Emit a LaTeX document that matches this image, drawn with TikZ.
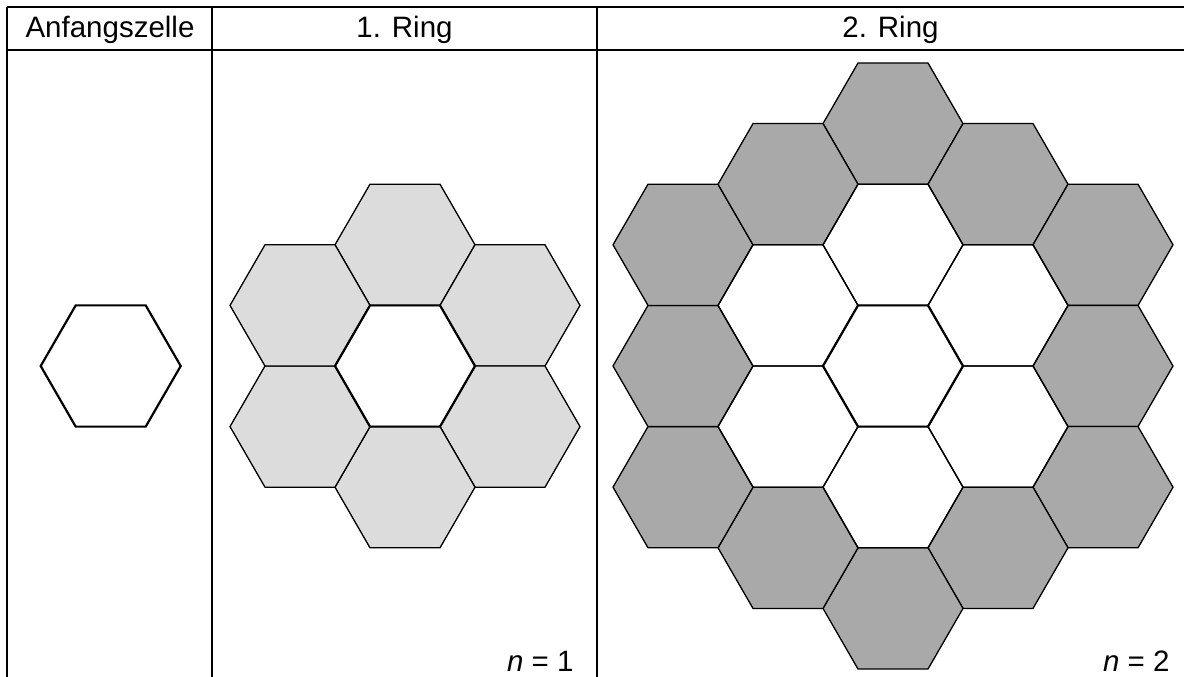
\documentclass[tikz,border=0pt]{standalone}
\usepackage{fontspec}
\setmainfont{Liberation Sans}
\usetikzlibrary{shapes.geometric}

\definecolor{lightcell}{HTML}{DCDCDC}
\definecolor{darkcell}{HTML}{A9A9A9}

\tikzset{
  grid/.style={draw=black, line width=1.3pt},
  hex/.style={regular polygon, regular polygon sides=6, minimum size=140pt,
    inner sep=0pt, outer sep=0pt, draw=black, line width=1.3pt},
  hexmid/.style={hex, line width=2.2pt},
  ringone/.style={hex, fill=lightcell},
  ringtwo/.style={hex, fill=darkcell},
  head/.style={font=\fontsize{29.5}{31}\selectfont, anchor=base},
  label/.style={font=\fontsize{29.5}{31}\selectfont, anchor=base east}
}

\begin{document}
\begin{tikzpicture}[x=1pt, y=-1pt]
\useasboundingbox (0,0) rectangle (1184,677);
% Table
\coordinate (tl) at (7,7);
\coordinate (tr) at (1184,7);
\coordinate (ml) at (7,50);
\coordinate (mr) at (1184,50);
\coordinate (bl) at (7,677);
\coordinate (ta) at (212,7);
\coordinate (ba) at (212,677);
\coordinate (tb) at (597,7);
\coordinate (bb) at (597,677);
\draw[grid] (tl) -- (tr);
\draw[grid] (ml) -- (mr);
\draw[grid] (tl) -- (bl);
\draw[grid] (ta) -- (ba);
\draw[grid] (tb) -- (bb);
% Headings
\node[head] (anf) at (110,38) {Anfangszelle};
\node[head] (ring1) at (404.5,38) {1. Ring};
\node[head] (ring2) at (890.5,38) {2. Ring};
\node[label] (n1) at (577,671) {\textit{n} = 1};
\node[label] (n2) at (1173,671) {\textit{n} = 2};
% Anfangszelle
\node[hexmid] (start) at (110.7,366) {};
% 1. Ring
\begin{scope}[shift={(405,366)}]
  \foreach \dx/\dy [count=\i] in {0/-121.2, 105/-60.6, 105/60.6, 0/121.2, -105/60.6, -105/-60.6}
    \node[ringone] (a\i) at (\dx,\dy) {};
  \node[hexmid] (a0) at (0,0) {};
\end{scope}
% 2. Ring
\begin{scope}[shift={(893,366)}]
  \foreach \dx/\dy [count=\i] in {0/-242.4, 105/-181.8, 210/-121.2, 210/0, 210/121.2, 105/181.8,
      0/242.4, -105/181.8, -210/121.2, -210/0, -210/-121.2, -105/-181.8}
    \node[ringtwo] (c\i) at (\dx,\dy) {};
  \foreach \dx/\dy [count=\i] in {0/-121.2, 105/-60.6, 105/60.6, 0/121.2, -105/60.6, -105/-60.6}
    \node[hex] (b\i) at (\dx,\dy) {};
  \node[hexmid] (b0) at (0,0) {};
\end{scope}
\end{tikzpicture}
\end{document}
